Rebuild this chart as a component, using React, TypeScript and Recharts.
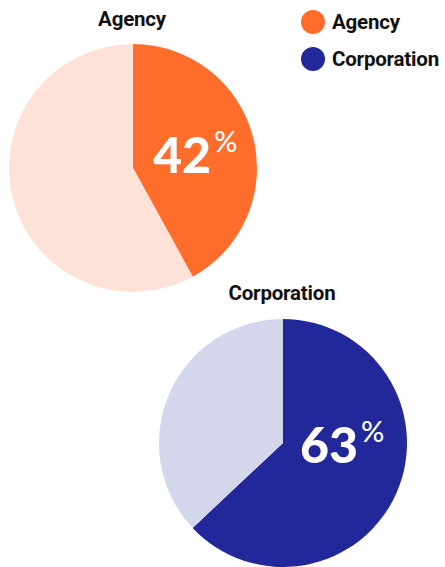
import { PieChart, Pie, Cell } from "recharts"

const groups = ["Agency", "Corporation"]
const agencyShare = [42, 58]
const corporationShare = [63, 37]
const agencyColors = ["#ff6d2a", "#ffe2d7"]
const corporationColors = ["#22289a", "#d4d6ec"]

const agencyData = agencyShare.map((value, i) => ({ name: i === 0 ? "Agency" : "Other", value }))
const corporationData = corporationShare.map((value, i) => ({ name: i === 0 ? "Corporation" : "Other", value }))

const titleFont = "'Roboto', 'Liberation Sans', sans-serif"
const numberFont = "'Lato', 'Open Sans', sans-serif"

function Percent({ value, left, top, color }: { value: number; left: number; top: number; color: string }) {
  return (
    <div style={{ position: "absolute", left, top, color, fontFamily: numberFont, whiteSpace: "nowrap", lineHeight: 1 }}>
      <span style={{ fontSize: 50, fontWeight: 900 }}>{value}</span>
      <span style={{ fontSize: 29, fontWeight: 500, verticalAlign: "top", position: "relative", top: -3, marginLeft: 3 }}>%</span>
    </div>
  )
}

const labelStyle = { fontFamily: titleFont, fontWeight: 700, fontSize: 20.5, color: "#111", letterSpacing: -0.2 } as const

export default function App() {
  return (
    <div style={{ position: "absolute", left: 0, top: 0, width: 445, height: 567, background: "#fff", overflow: "hidden" }}>
      <PieChart width={445} height={567} margin={{ top: 0, right: 0, bottom: 0, left: 0 }}>
        <Pie
          data={agencyData}
          dataKey="value"
          cx={133}
          cy={168}
          outerRadius={124}
          startAngle={90}
          endAngle={-270}
          stroke="none"
          isAnimationActive={false}
        >
          {agencyData.map((d, i) => (
            <Cell key={d.name + i} fill={agencyColors[i]} />
          ))}
        </Pie>
        <Pie
          data={corporationData}
          dataKey="value"
          cx={283}
          cy={443}
          outerRadius={124}
          startAngle={90}
          endAngle={-270}
          stroke="none"
          isAnimationActive={false}
        >
          {corporationData.map((d, i) => (
            <Cell key={d.name + i} fill={corporationColors[i]} />
          ))}
        </Pie>
      </PieChart>

      <div style={{ ...labelStyle, position: "absolute", left: 32, width: 200, top: 7, textAlign: "center" }}>
        {groups[0]}
      </div>
      <div style={{ ...labelStyle, position: "absolute", left: 182, width: 200, top: 281, textAlign: "center" }}>
        {groups[1]}
      </div>

      <Percent value={agencyShare[0]} left={153} top={129} color="#fff" />
      <Percent value={corporationShare[0]} left={300} top={419} color="#fff" />

      {groups.map((g, i) => (
        <div key={g} style={{ ...labelStyle, position: "absolute", left: 301, top: 10 + i * 37, display: "flex", alignItems: "center" }}>
          <span style={{ width: 24, height: 24, borderRadius: 12, background: i === 0 ? agencyColors[0] : corporationColors[0], marginRight: 7 }} />
          {g}
        </div>
      ))}
    </div>
  )
}
